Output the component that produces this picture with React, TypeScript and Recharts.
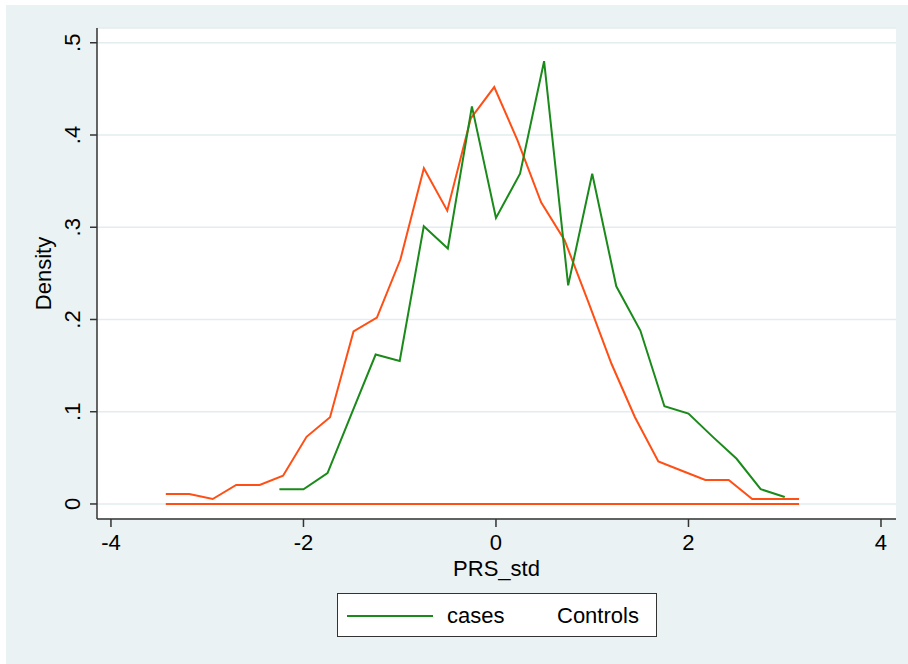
import { LineChart, Line, XAxis, YAxis, CartesianGrid } from 'recharts';

// PRS_std bin midpoints and densities
const casesX = [
  -2.25, -2, -1.75, -1.5, -1.25, -1, -0.75, -0.5, -0.25, 0, 0.25,
  0.5, 0.75, 1, 1.25, 1.5, 1.75, 2, 2.25, 2.5, 2.75, 3,
];
const casesDensity = [
  0.016, 0.016, 0.0335, 0.098, 0.162, 0.155, 0.301, 0.277, 0.431, 0.31, 0.358,
  0.48, 0.237, 0.358, 0.236, 0.188, 0.106, 0.098, 0.073, 0.049, 0.016, 0.0076,
];

const controlsX = [
  -3.43, -3.186, -2.943, -2.699, -2.455, -2.212, -1.968, -1.724, -1.48, -1.237,
  -0.993, -0.749, -0.506, -0.262, -0.018, 0.225, 0.469, 0.713, 0.956, 1.2,
  1.444, 1.687, 1.931, 2.175, 2.418, 2.662, 2.906, 3.149,
];
const controlsDensity = [
  0.0108, 0.0108, 0.0054, 0.0206, 0.0206, 0.0306, 0.0728, 0.094, 0.187, 0.202,
  0.265, 0.364, 0.318, 0.418, 0.452, 0.394, 0.327, 0.286, 0.22, 0.152,
  0.094, 0.046, 0.036, 0.026, 0.026, 0.0054, 0.0054, 0.0054,
];

const xTicks = [-4, -2, 0, 2, 4];
const yTicks = [0, 0.1, 0.2, 0.3, 0.4, 0.5];

const GREEN = '#1a8a1a';
const ORANGE = '#ff4f14';
const BG = '#eaf2f3';
const FONT = '"Liberation Sans", Arial, Helvetica, sans-serif';

const casesData = casesX.map((x, i) => ({ x, y: casesDensity[i] }));
const controlsData = controlsX.map((x, i) => ({ x, y: controlsDensity[i] }));

// zero baselines spanning each series' range
const casesBase = [
  { x: casesX[0], y: 0 },
  { x: casesX[casesX.length - 1], y: 0 },
];
const controlsBase = [
  { x: controlsX[0], y: 0 },
  { x: controlsX[controlsX.length - 1], y: 0 },
];

const fmtY = (v: number) => (v === 0 ? '0' : v.toFixed(1).replace(/^0/, ''));

const YTick = (props: any) => {
  const { x, y, payload } = props;
  return (
    <text
      x={x}
      y={y}
      transform={`rotate(-90, ${x}, ${y})`}
      textAnchor="middle"
      fill="#000"
      fontSize={22}
      fontFamily={FONT}
    >
      {fmtY(payload.value)}
    </text>
  );
};

export default function App() {
  return (
    <div
      style={{
        position: 'absolute',
        left: 0,
        top: 0,
        width: 908,
        height: 664,
        background: '#ffffff',
        fontFamily: FONT,
      }}
    >
      <div
        style={{
          position: 'absolute',
          left: 6,
          top: 5,
          right: 0,
          bottom: 0,
          background: BG,
        }}
      />
      <div style={{ position: 'absolute', left: 0, top: 0 }}>
        <LineChart
          width={908}
          height={664}
          margin={{ top: 28, right: 12, left: 0, bottom: 0 }}
        >
          <CartesianGrid
            vertical={false}
            stroke="#e3ecef"
            strokeWidth={1.5}
            fill="#ffffff"
            fillOpacity={1}
          />
          <XAxis
            type="number"
            dataKey="x"
            domain={[-4.145, 4.156]}
            allowDataOverflow
            ticks={xTicks}
            height={145}
            stroke="#333"
            strokeWidth={1.5}
            tickSize={8}
            tickMargin={7}
            tick={{ fill: '#000', fontSize: 22, fontFamily: FONT }}
            label={({ viewBox }: any) => (
              <text
                x={viewBox.x + viewBox.width / 2}
                y={viewBox.y + 57}
                textAnchor="middle"
                fill="#000"
                fontSize={22}
                fontFamily={FONT}
              >
                PRS_std
              </text>
            )}
          />
          <YAxis
            type="number"
            dataKey="y"
            domain={[-0.0163, 0.516]}
            allowDataOverflow
            ticks={yTicks}
            width={97}
            stroke="#333"
            strokeWidth={1.5}
            tickSize={7}
            tickMargin={10}
            tick={<YTick />}
            label={({ viewBox }: any) => {
              const cx = 51;
              const cy = viewBox.y + viewBox.height / 2;
              return (
                <text
                  x={cx}
                  y={cy}
                  transform={`rotate(-90, ${cx}, ${cy})`}
                  textAnchor="middle"
                  fill="#000"
                  fontSize={22}
                  fontFamily={FONT}
                >
                  Density
                </text>
              );
            }}
          />
          <Line
            data={casesBase}
            dataKey="y"
            stroke={ORANGE}
            strokeWidth={2}
            dot={false}
            isAnimationActive={false}
          />
          <Line
            data={controlsBase}
            dataKey="y"
            stroke={ORANGE}
            strokeWidth={2}
            dot={false}
            isAnimationActive={false}
          />
          <Line
            data={controlsData}
            dataKey="y"
            name="Controls"
            stroke={ORANGE}
            strokeWidth={2}
            dot={false}
            type="linear"
            isAnimationActive={false}
          />
          <Line
            data={casesData}
            dataKey="y"
            name="cases"
            stroke={GREEN}
            strokeWidth={2}
            dot={false}
            type="linear"
            isAnimationActive={false}
          />
        </LineChart>
      </div>

      {/* legend: Stata drew no key line for Controls */}
      <div
        style={{
          position: 'absolute',
          left: 337,
          top: 593,
          width: 318,
          height: 42,
          background: '#ffffff',
          border: '1px solid #333',
          fontSize: 22,
          color: '#000',
        }}
      >
        <div
          style={{
            position: 'absolute',
            left: 9,
            top: 21,
            width: 86,
            height: 2,
            background: GREEN,
          }}
        />
        <span style={{ position: 'absolute', left: 109, top: 9, lineHeight: '25px' }}>
          cases
        </span>
        <span style={{ position: 'absolute', left: 219, top: 9, lineHeight: '25px' }}>
          Controls
        </span>
      </div>
    </div>
  );
}
